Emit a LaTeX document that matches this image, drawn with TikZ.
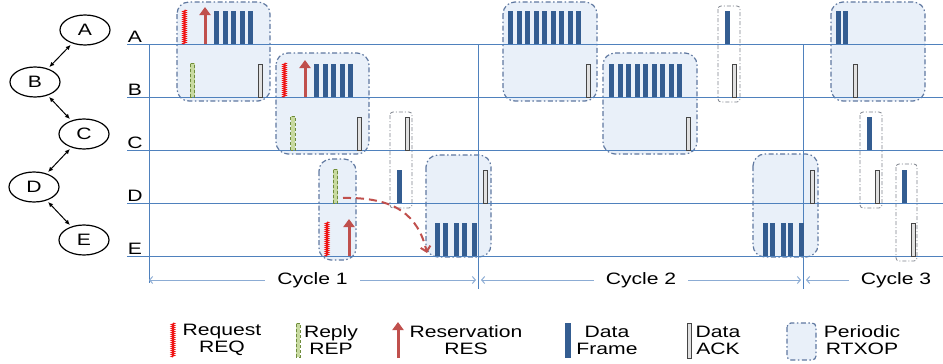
\documentclass[tikz,border=0pt]{standalone}
\usepackage{fontspec}
\setmainfont{Liberation Sans}[FakeStretch=1.28]
\usepackage{tikz}
\usetikzlibrary{arrows,arrows.meta,calc,positioning,shapes.geometric,decorations.pathmorphing}

\definecolor{rowblue}{RGB}{79,129,189}
\definecolor{cycblue}{RGB}{140,172,212}
\definecolor{framecol}{RGB}{52,93,145}
\definecolor{boxfill}{RGB}{233,240,249}
\definecolor{boxline}{RGB}{95,120,160}
\definecolor{winline}{RGB}{125,130,140}
\definecolor{reqred}{RGB}{240,20,20}
\definecolor{resred}{RGB}{192,80,77}
\definecolor{repfill}{RGB}{200,218,160}
\definecolor{repline}{RGB}{110,140,60}
\definecolor{ackfill}{RGB}{225,225,225}
\definecolor{ackline}{RGB}{70,70,70}

\tikzset{
	sta/.style={ellipse,draw,line width=1.2pt,minimum width=50pt,minimum height=30pt,inner sep=0pt},
	stalink/.style={{Latex[length=5pt,width=4.5pt]}-{Latex[length=5pt,width=4.5pt]},line width=1pt,shorten <=2pt,shorten >=2pt},
	rowline/.style={draw=rowblue,line width=1pt},
	rowlab/.style={anchor=base,inner sep=0pt,yshift=1.5pt},
	rtxop/.style={fill=boxfill,draw=boxline,line width=1.2pt,rounded corners=12pt,dash pattern=on 5pt off 2.5pt on 1.5pt off 2.5pt},
	ackwin/.style={fill=white,draw=winline,line width=0.8pt,rounded corners=3pt,dash pattern=on 4pt off 2pt on 1pt off 2pt},
	dataframe/.style={fill=framecol},
	dataack/.style={fill=ackfill,draw=ackline,line width=0.8pt},
	reply/.style={fill=repfill,draw=repline,line width=0.9pt,dash pattern=on 3pt off 2pt},
	request/.style={draw=reqred,line width=1pt,decorate,decoration={zigzag,segment length=2pt,amplitude=1.5pt}},
	reserve/.style={draw=resred,line width=3pt,-{Triangle[length=8pt,width=11pt]}},
	resflow/.style={draw=resred,line width=2pt,dash pattern=on 8pt off 5pt,-{Straight Barb[length=5pt,width=10pt]}},
	cycarrow/.style={draw=cycblue,line width=1pt,{Straight Barb[length=3pt,width=7pt]}-{Straight Barb[length=3pt,width=7pt]}},
	cyctext/.style={fill=white,inner xsep=12pt,inner ysep=2pt},
	legtext/.style={align=center,inner sep=0pt}
}

\newcommand{\dframe}[2]{\fill[dataframe] (#1,#2) rectangle ++(5,-33);}
\newcommand{\dack}[2]{\filldraw[dataack] (#1,#2) rectangle ++(4,-33);}
\newcommand{\drep}[2]{\filldraw[reply] (#1,#2) rectangle ++(4.5,-34);}
\newcommand{\dreq}[2]{\draw[request] (#1,#2) -- ++(0,-34);}
\newcommand{\dres}[2]{\draw[reserve] (#1,#2) -- ++(0,-37);}

\begin{document}
\begin{tikzpicture}[x=1pt,y=-1pt,font=\fontsize{16.5}{17}\selectfont]
	\useasboundingbox (0,0) rectangle (943,364);

	% stations
	\node[sta] (A) at (85,30) {A};
	\node[sta] (B) at (35,82) {B};
	\node[sta] (C) at (84,134) {C};
	\node[sta] (D) at (34,187) {D};
	\node[sta] (E) at (84,240) {E};
	\draw[stalink] (A) -- (B);
	\draw[stalink] (B) -- (C);
	\draw[stalink] (C) -- (D);
	\draw[stalink] (D) -- (E);

	% periodic RTXOPs
	\filldraw[rtxop] (177,2) rectangle (270,101);
	\filldraw[rtxop] (276,53) rectangle (369,154);
	\filldraw[rtxop] (319,159) rectangle (356,260);
	\filldraw[rtxop] (426,155) rectangle (491,257);
	\filldraw[rtxop] (503,2) rectangle (597,101);
	\filldraw[rtxop] (603,53) rectangle (697,154);
	\filldraw[rtxop] (753,154) rectangle (818,257);
	\filldraw[rtxop] (831,2) rectangle (925,101);
	\filldraw[ackwin] (390,112) rectangle (412,208);
	\filldraw[ackwin] (718,6) rectangle (740,102);
	\filldraw[ackwin] (860,112) rectangle (882,208);
	\filldraw[ackwin] (896,164) rectangle (917,261);

	% time lines
	\foreach \r/\y in {A/44,B/97,C/150,D/203,E/256} {
		\draw[rowline] (127,\y) -- (943,\y);
		\node[rowlab] (lab\r) at (135,\y) {\r};
	}
	\draw[rowline] (149,44) -- (149,283);
	\draw[rowline] (478,44) -- (478,289);
	\draw[rowline] (803,44) -- (803,289);

	% cycle 1
	\dreq{184.5}{44}
	\dres{205}{44}
	\foreach \x in {214,222.5,...,248} {\dframe{\x}{44}}
	\drep{190}{97}
	\dack{258.5}{97}
	\dreq{284.5}{97}
	\dres{305}{97}
	\foreach \x in {314,322.5,...,348} {\dframe{\x}{97}}
	\drep{290.5}{150}
	\dack{357.5}{150}
	\dack{405}{150}
	\dframe{397}{203}
	\drep{333}{203}
	\dreq{327}{256}
	\dres{349}{256}
	\dack{483}{203}
	\foreach \x in {435,443,454,462,472} {\dframe{\x}{256}}

	% cycle 2
	\foreach \x in {508,516.5,...,576} {\dframe{\x}{44}}
	\dack{586}{97}
	\foreach \x in {609,617.5,...,677} {\dframe{\x}{97}}
	\dack{686}{150}
	\dframe{725}{44}
	\dack{732.5}{97}
	\dack{810}{203}
	\foreach \x in {763,770,781,788,799} {\dframe{\x}{256}}

	% cycle 3
	\dframe{836}{44}
	\dframe{843}{44}
	\dack{853.5}{97}
	\dframe{867}{150}
	\dack{875}{203}
	\dframe{902}{203}
	\dack{911}{256}

	% reply to reservation
	\coordinate (repD) at (343,198);
	\coordinate (resE) at (427,253);
	\draw[resflow] (repD) .. controls (395,197) and (418,215) .. (resE);

	% cycles
	\draw[cycarrow] (149,280) -- (476,280) node[midway,cyctext] (cyc1) {Cycle 1};
	\draw[cycarrow] (481,280) -- (801,280) node[midway,cyctext] (cyc2) {Cycle 2};
	\draw[cycarrow] (806,280) -- (940,280);
	\node[cyctext] (cyc3) at (896,280) {Cycle 3};

	% legend
	\draw[request] (173,357) -- (173,323);
	\node[legtext] (lreq) at (222,340) {Request\\REQ};
	\filldraw[reply] (296,357) rectangle (300,323);
	\node[legtext] (lrep) at (331,340) {Reply\\REP};
	\draw[reserve] (398,358) -- (398,322);
	\node[legtext] (lres) at (466,340) {Reservation\\RES};
	\fill[dataframe] (565,358) rectangle (571,323);
	\node[legtext] (lfrm) at (607,340) {Data\\Frame};
	\filldraw[dataack] (687,358) rectangle (691,323);
	\node[legtext] (lack) at (718,340) {Data\\ACK};
	\filldraw[rtxop,rounded corners=4pt] (787,323) rectangle (816,360);
	\node[legtext] (lrtx) at (862,340) {Periodic\\RTXOP};
\end{tikzpicture}
\end{document}
